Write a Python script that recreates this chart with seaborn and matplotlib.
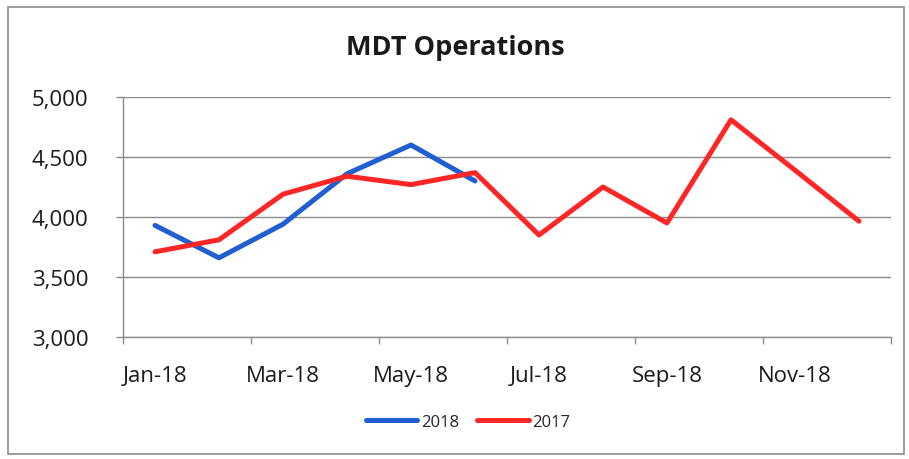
import numpy as np
import pandas as pd
import matplotlib
matplotlib.use("Agg")
import matplotlib.pyplot as plt
import seaborn as sns
from matplotlib.patches import Rectangle
from matplotlib.ticker import FixedLocator, FuncFormatter

# ── data ───────────────────────────────────────────────────────────────────
months = ["Jan-18", "Feb-18", "Mar-18", "Apr-18", "May-18", "Jun-18",
          "Jul-18", "Aug-18", "Sep-18", "Oct-18", "Nov-18", "Dec-18"]
ops_2018 = [3930, 3660, 3940, 4360, 4600, 4300]
ops_2017 = [3710, 3810, 4190, 4340, 4270, 4370,
            3850, 4250, 3950, 4810, 4390, 3965]

rows = []
for i, v in enumerate(ops_2018):
    rows.append({"idx": i, "value": v, "series": "2018"})
for i, v in enumerate(ops_2017):
    rows.append({"idx": i, "value": v, "series": "2017"})
df = pd.DataFrame(rows)

# ── styling ────────────────────────────────────────────────────────────────
sns.set_style("white")
plt.rcParams["font.family"] = ["Open Sans", "DejaVu Sans"]

fig = plt.figure(figsize=(9.09, 4.6), dpi=100)
ax = fig.add_axes([123 / 909, 1 - 338 / 460, 768 / 909, 240 / 460])

palette = {"2018": "#1f5fcf", "2017": "#ff2626"}
sns.lineplot(data=df, x="idx", y="value", hue="series",
             hue_order=["2018", "2017"], palette=palette,
             linewidth=3.6, ax=ax, legend=False)

ax.set_xlim(-0.5, 11.5)
ax.set_ylim(3000, 5000)
ax.set_xlabel("")
ax.set_ylabel("")

# y axis
ax.set_yticks(np.arange(3000, 5001, 500))
ax.yaxis.set_major_formatter(FuncFormatter(lambda v, p: f"{int(v):,}"))
ax.grid(axis="y", color="#8c8c8c", linewidth=1.0)
ax.grid(axis="x", visible=False)

# x axis: tick marks between every second category, labels on categories
ax.xaxis.set_major_locator(FixedLocator(np.arange(-0.5, 12, 2)))
ax.xaxis.set_major_formatter(FuncFormatter(lambda v, p: ""))
ax.xaxis.set_minor_locator(FixedLocator(np.arange(0, 12, 2)))
ax.set_xticklabels([months[i] for i in range(0, 12, 2)], minor=True)
ax.tick_params(axis="x", which="major", length=5, width=1, color="#8c8c8c",
               direction="out", bottom=True)
ax.tick_params(axis="x", which="minor", length=0, pad=20,
               labelsize=16, labelcolor="#1a1a1a")
ax.tick_params(axis="y", length=5, width=1, color="#8c8c8c",
               direction="out", left=True, pad=20,
               labelsize=16, labelcolor="#1a1a1a")

for side in ["top", "right"]:
    ax.spines[side].set_visible(False)
for side in ["left", "bottom"]:
    ax.spines[side].set_color("#8c8c8c")
    ax.spines[side].set_linewidth(1.0)

# title
fig.text(455 / 909, 1 - 48 / 460, "MDT Operations", ha="center", va="center",
         fontsize=19.5, fontweight="bold", color="#1a1a1a")

# legend
handles = [plt.Line2D([], [], color=palette[s], linewidth=3.6) for s in ["2018", "2017"]]
fig.legend(handles, ["2018", "2017"], loc="center", ncol=2, frameon=False,
           bbox_to_anchor=(468 / 909, 1 - 423 / 460), fontsize=12,
           handlelength=3.1, handletextpad=0.2, columnspacing=1.1)

# chart-area border
fig.patches.append(Rectangle((8 / 909, 5 / 460), 896 / 909, 447 / 460,
                             transform=fig.transFigure, fill=False,
                             edgecolor="#8c8c8c", linewidth=1.2))

fig.savefig("out.png", dpi=100)
plt.close(fig)
